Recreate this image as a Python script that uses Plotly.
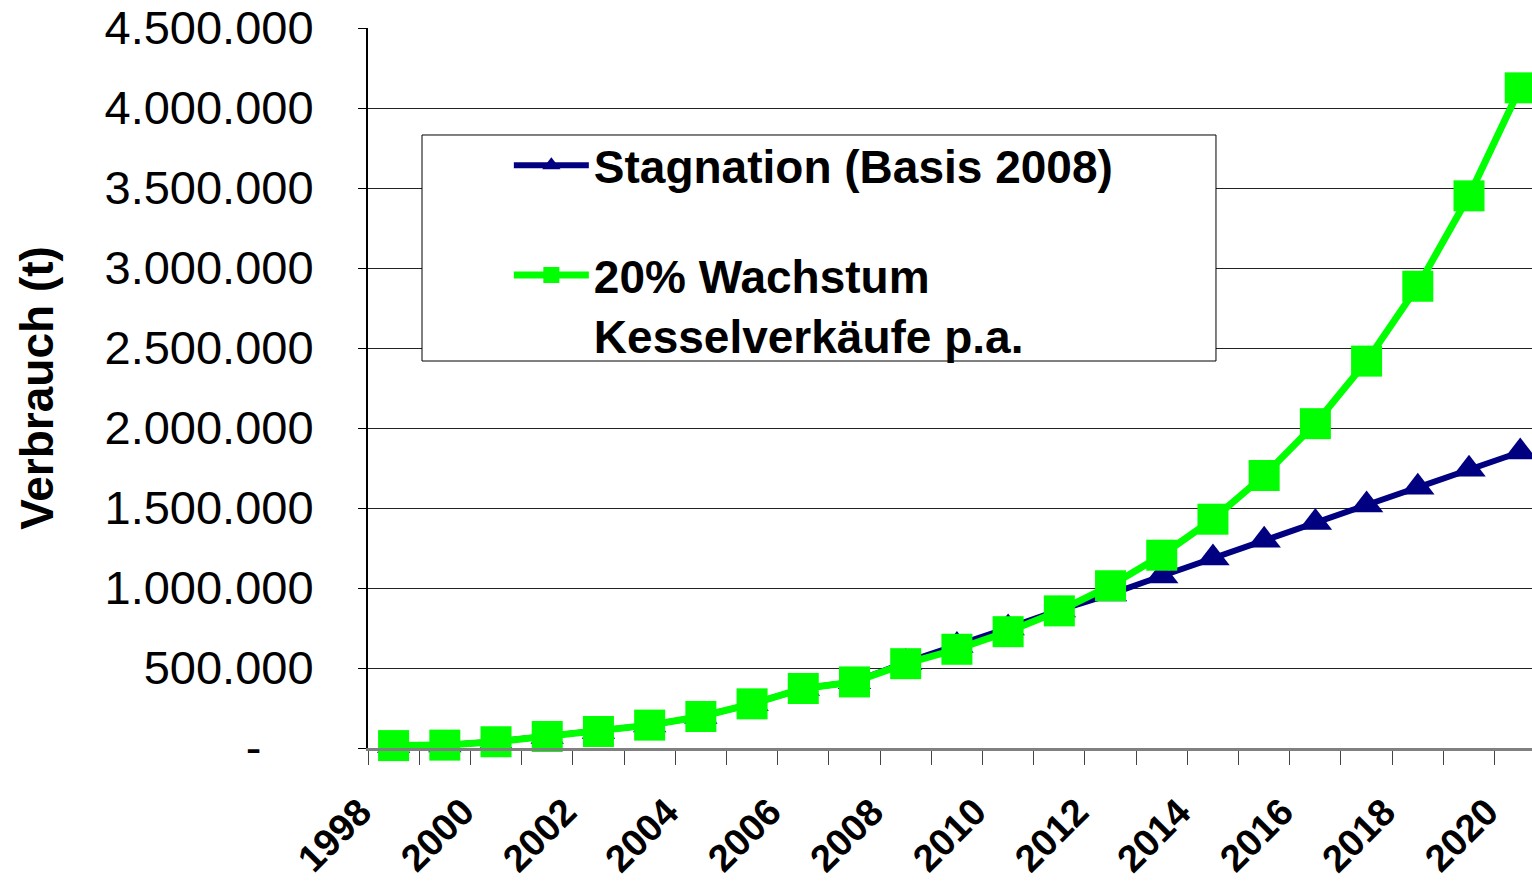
import plotly.graph_objects as go

years = list(range(1998, 2021))
stagnation = [15000, 18000, 40000, 72000, 103000, 143000, 197000, 276000, 372000, 414000,
              535000, 640000, 750000, 862000, 962000, 1075000, 1188000, 1298000, 1409000,
              1519000, 1629000, 1742000, 1850000]
growth = [15000, 18000, 39000, 72000, 103000, 143000, 197000, 276000, 372000, 413000,
          527000, 617000, 727000, 857000, 1014000, 1205000, 1430000, 1703000, 2027000,
          2418000, 2886000, 3451000, 4126000]
label_years = [y for y in years if y % 2 == 0]
y_ticks = [i * 500000 for i in range(10)]
y_ticktext = ["-" + "\u00a0" * 4] + [f"{v:,}".replace(",", ".") for v in y_ticks[1:]]

FONT = "Arial, 'Liberation Sans', sans-serif"
X_RANGE = [1997.5, 2020.23]

fig = go.Figure()
fig.add_trace(go.Scatter(
    x=years, y=stagnation, name="Stagnation (Basis 2008)", mode="lines+markers",
    line=dict(color="#000080", width=6),
    marker=dict(symbol="triangle-up", size=29, color="#000080"),
    legendgroup="a", cliponaxis=False,
))
fig.add_trace(go.Scatter(
    x=years, y=growth, name="20% Wachstum<br>Kesselverkäufe p.a.", mode="lines+markers",
    line=dict(color="#00FF00", width=7),
    marker=dict(symbol="square", size=31, color="#00FF00"),
    legendgroup="b", cliponaxis=False,
))

span = X_RANGE[1] - X_RANGE[0]
annotations = [dict(
    x=(y - 0.22 - X_RANGE[0]) / span, y=0, xref="paper", yref="paper",
    text=str(y), textangle=-45, showarrow=False,
    xanchor="right", yanchor="top", yshift=-39,
    font=dict(family=FONT, size=38, color="black", weight="bold"),
) for y in label_years]

fig.update_layout(
    width=1532, height=882,
    margin=dict(l=368, r=0, t=28, b=134, autoexpand=False),
    paper_bgcolor="white", plot_bgcolor="white",
    font=dict(family=FONT, color="black"),
    showlegend=True,
    legend=dict(
        x=0.121, y=0.860, xanchor="left", yanchor="top",
        bgcolor="rgba(0,0,0,0)", borderwidth=0,
        font=dict(family=FONT, size=46, color="black", weight="bold"),
        tracegroupgap=47, valign="top", itemwidth=75,
    ),
    shapes=[dict(
        type="rect", xref="paper", yref="paper",
        x0=0.0464, x1=0.7285, y0=0.5375, y1=0.8514,
        line=dict(color="black", width=1), fillcolor="white", layer="above",
    )],
    annotations=annotations,
)

fig.update_xaxes(
    range=X_RANGE, automargin=False,
    tickmode="array", tickvals=[], showticklabels=False,
    ticks="",
    showgrid=False, zeroline=False,
    showline=True, linecolor="#808080", linewidth=3,
    minor=dict(ticks="outside", ticklen=14, tickcolor="#444", tickwidth=1,
               tickmode="linear", tick0=1997.5, dtick=1, showgrid=False),
)
fig.update_yaxes(
    range=[0, 4500000], automargin=False,
    tickmode="array", tickvals=y_ticks, ticktext=y_ticktext,
    tickfont=dict(family=FONT, size=47, color="black"),
    ticks="outside", ticklen=8, tickcolor="black", ticklabelstandoff=35,
    showgrid=True, gridcolor="#222", gridwidth=1,
    zeroline=False, showline=True, linecolor="black", linewidth=2,
    title=dict(text="<b>Verbrauch (t)</b>", standoff=36,
               font=dict(family=FONT, size=46, color="black")),
)

fig.write_html(
    "out.html",
    config={"displayModeBar": False},
    post_script="document.body.style.margin='0';document.body.style.overflow='hidden';"
                "window.dispatchEvent(new Event('resize'));",
)
